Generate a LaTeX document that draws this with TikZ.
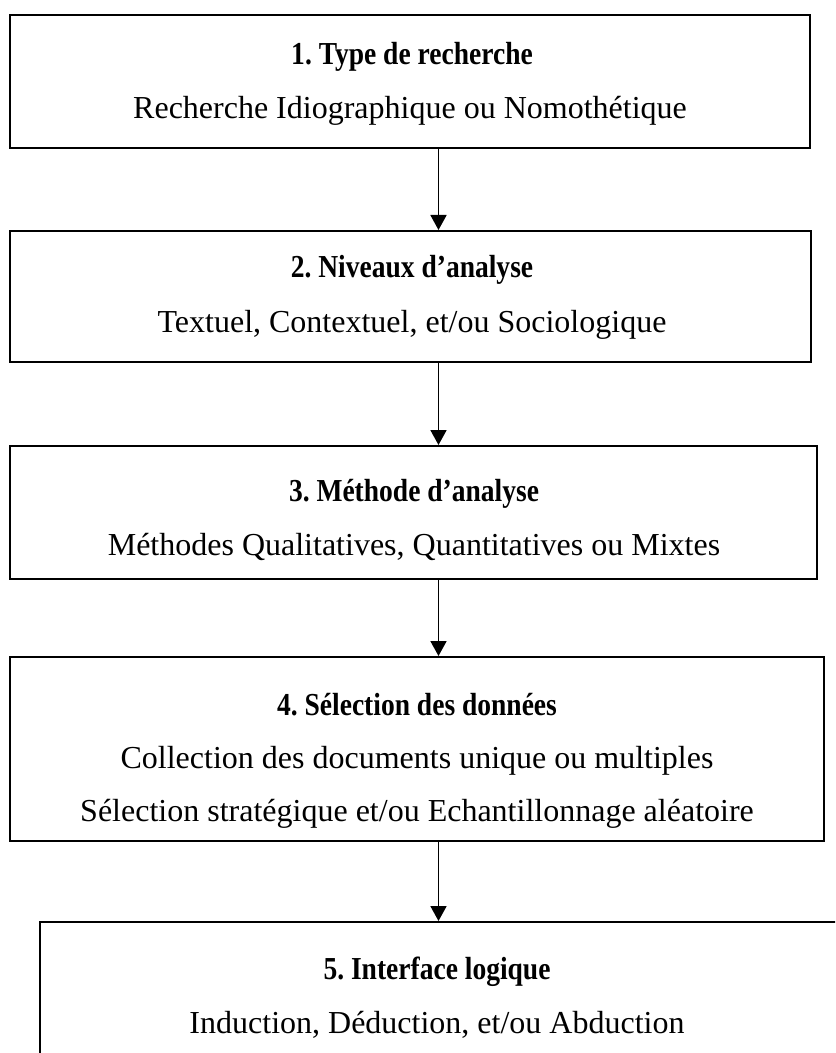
\documentclass[tikz,border=0pt]{standalone}
\usepackage{fontspec}
\setmainfont{Liberation Serif}
\newfontfamily\ttlfam[FakeStretch=0.86]{Liberation Serif}
\usetikzlibrary{fit,arrows.meta}
\begin{document}
\frenchspacing
\begin{tikzpicture}[x=0.5pt,y=-0.5pt,
  box/.style={draw=black, line width=1pt, inner sep=0pt, fill=white},
  ttl/.style={anchor=base, font=\ttlfam\fontsize{16}{19}\selectfont\bfseries},
  txt/.style={anchor=base, font=\fontsize{16}{19}\selectfont},
  arr/.style={draw=black, line width=0.9pt, -{Triangle[width=8pt,length=7.5pt]}}]
\useasboundingbox (0,0) rectangle (835,1053);
\clip (0,0) rectangle (835,1053);
\fill[white] (0,0) rectangle (835,1053);
% frames of the five steps
\node[box, fit={(10,15) (810,148)}] (b1) {};
\node[box, fit={(10,231) (811,362)}] (b2) {};
\node[box, fit={(10,446) (817,579)}] (b3) {};
\node[box, fit={(10,657) (824,841)}] (b4) {};
\node[box, fit={(40,922) (860,1080)}] (b5) {};
% texts
\node[ttl] (t1) at (412,65) {1. Type de recherche};
\node[txt] (s1) at (410,119) {Recherche Idiographique ou Nomothétique};
\node[ttl] (t2) at (412,278) {2. Niveaux d’analyse};
\node[txt] (s2) at (412,332) {Textuel, Contextuel, et/ou Sociologique};
\node[ttl] (t3) at (414,501) {3. Méthode d’analyse};
\node[txt] (s3) at (414,555) {Méthodes Qualitatives, Quantitatives ou Mixtes};
\node[ttl] (t4) at (417,715) {4. Sélection des données};
\node[txt] (s4a) at (417,768) {Collection des documents unique ou multiples};
\node[txt] (s4b) at (417,821) {Sélection stratégique et/ou Echantillonnage aléatoire};
\node[ttl] (t5) at (437,979) {5. Interface logique};
\node[txt] (s5) at (437,1033) {Induction, Déduction, et/ou Abduction};
% connectors
\coordinate (ax) at (438.5,0);
\draw[arr] (b1.south -| ax) -- (b2.north -| ax);
\draw[arr] (b2.south -| ax) -- (b3.north -| ax);
\draw[arr] (b3.south -| ax) -- (b4.north -| ax);
\draw[arr] (b4.south -| ax) -- (b5.north -| ax);
\end{tikzpicture}
\end{document}
